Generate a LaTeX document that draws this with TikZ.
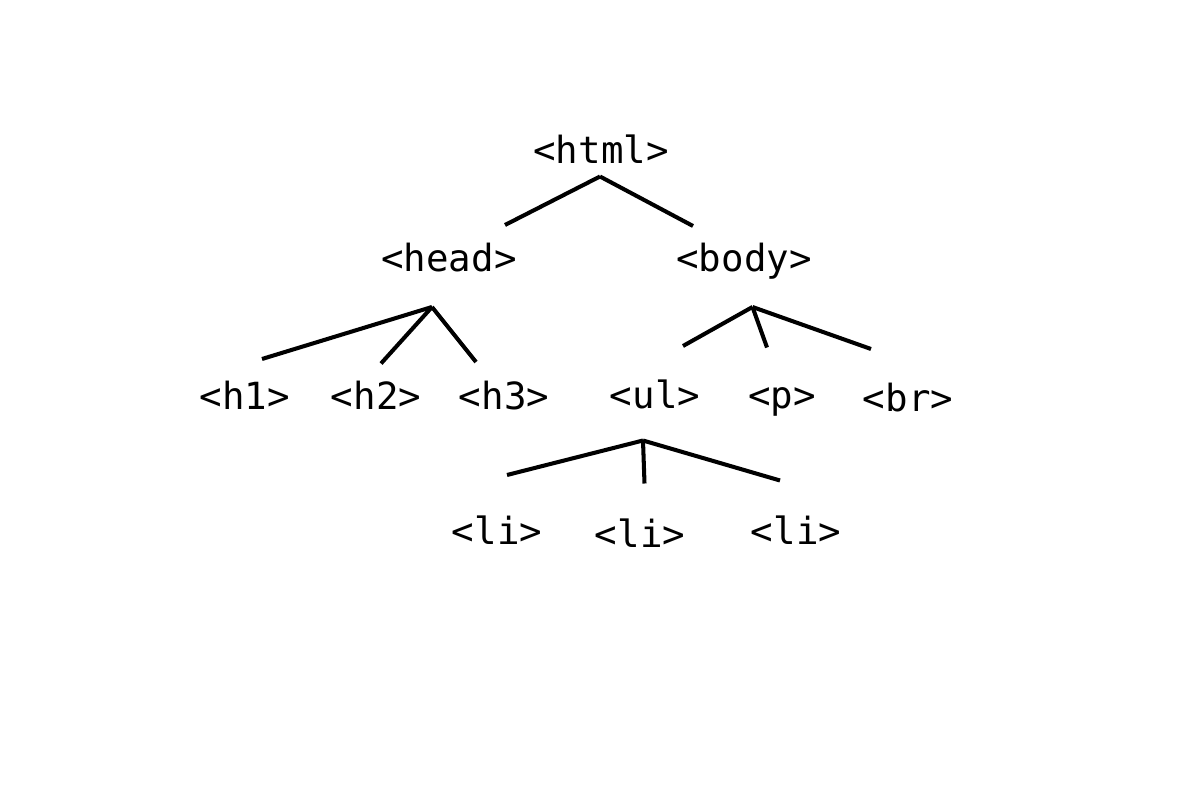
\documentclass[tikz,border=0pt]{standalone}
\usepackage{fontspec}
\setmonofont{DejaVu Sans Mono}
\usetikzlibrary{calc}
\tikzset{
    tag/.style={
            font=\ttfamily\fontsize{21.3pt}{24pt}\selectfont,
            inner sep=0pt, % no padding
            anchor=base
        },
    branch/.style={
            line width=2.3pt,
            line cap=butt
        }
}
\begin{document}
\begin{tikzpicture}[
        x=0.02cm,
        y=-0.02cm,
    ]
    \useasboundingbox (0,0) rectangle (1200,790);
    % tags
    \node[tag] (html) at (601,164) {<html>};
    \node[tag] (head) at (449,272) {<head>};
    \node[tag] (body) at (744,272) {<body>};
    \node[tag] (h1) at (245,410) {<h1>};
    \node[tag] (h2) at (376,410) {<h2>};
    \node[tag] (h3) at (504,410) {<h3>};
    \node[tag] (ul) at (655,409) {<ul>};
    \node[tag] (p) at (782,409) {<p>};
    \node[tag] (br) at (908,412) {<br>};
    \node[tag] (li1) at (497,544) {<li>};
    \node[tag] (li2) at (640,547) {<li>};
    \node[tag] (li3) at (796,544) {<li>};
    % forks
    \coordinate (html-fork) at (600,176.5);
    \coordinate (head-fork) at (432,307);
    \coordinate (body-fork) at (752.5,307);
    \coordinate (ul-fork) at (643,440.5);
    % stubs
    \coordinate (head-stub) at (505,225);
    \coordinate (body-stub) at (693,226);
    \coordinate (h1-stub) at (262,359);
    \coordinate (h2-stub) at (381,363.5);
    \coordinate (h3-stub) at (476,362);
    \coordinate (ul-stub) at (683,346);
    \coordinate (p-stub) at (767,347.5);
    \coordinate (br-stub) at (871,349);
    \coordinate (li1-stub) at (507,475);
    \coordinate (li2-stub) at (644.5,483.5);
    \coordinate (li3-stub) at (780,480.5);
    % branches
    \path[branch]
    (html-fork) edge (head-stub)
    (html-fork) edge (body-stub);
    \foreach \leaf in {h1,h2,h3}
        \draw[branch] (head-fork) -- (\leaf-stub);
    \foreach \leaf in {ul,p,br}
        \draw[branch] (body-fork) -- (\leaf-stub);
    \foreach \leaf in {li1,li2,li3}
        \draw[branch] (ul-fork) -- (\leaf-stub);
\end{tikzpicture}
\end{document}
